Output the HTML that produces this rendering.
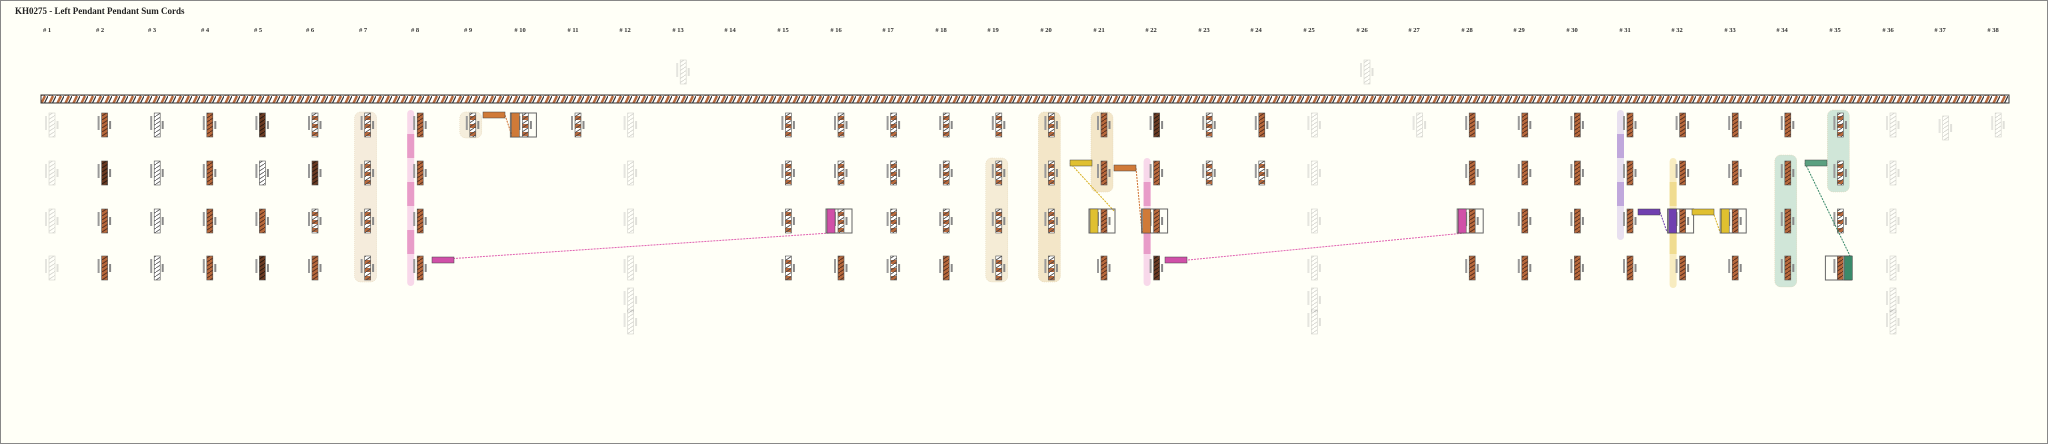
<!DOCTYPE html>
<html><head><meta charset="utf-8"><style>
html,body{margin:0;padding:0;background:#fffff7}
svg{display:block}
text{font-family:"Liberation Serif",serif}
</style></head><body>
<svg id="s" width="2048" height="444" viewBox="0 0 2048 444" xmlns="http://www.w3.org/2000/svg">
<defs>
<pattern id="hb" width="6" height="4" patternUnits="userSpaceOnUse"><rect width="6" height="4" fill="#b8693c"/><path d="M0 4L6 0" stroke="#5a3020" stroke-width="1"/></pattern>
<pattern id="hw" width="6" height="4" patternUnits="userSpaceOnUse"><rect width="6" height="4" fill="#fff"/><path d="M0 4L6 0" stroke="#555" stroke-width="0.8"/></pattern>
<pattern id="hd" width="6" height="4" patternUnits="userSpaceOnUse"><rect width="6" height="4" fill="#6a3a22"/><path d="M0 4L6 0" stroke="#2a1a10" stroke-width="1"/></pattern>
<pattern id="hm" width="6" height="8" patternUnits="userSpaceOnUse"><rect width="6" height="8" fill="#fff"/><rect y="4" width="6" height="4" fill="#b8693c"/><path d="M0 4L6 0M0 8L6 4" stroke="#444" stroke-width="0.8"/></pattern>
<pattern id="mc" width="8" height="8" patternUnits="userSpaceOnUse"><rect width="8" height="8" fill="#fff"/><path d="M1 8L5 0" stroke="#b8693c" stroke-width="2.5"/><path d="M4 8L8 0" stroke="#333" stroke-width="1.2"/></pattern>
</defs>
<rect x="0.5" y="0.5" width="2047" height="443" fill="#fffff7" stroke="#888"/>
<text x="15" y="14" font-size="9" font-weight="bold" fill="#222">KH0275 - Left Pendant Pendant Sum Cords</text>
<g id="hdr" font-size="6.5" font-weight="bold" fill="#333" text-anchor="middle">
<text x="47" y="32"># 1</text><text x="100" y="32"># 2</text><text x="152" y="32"># 3</text><text x="205" y="32"># 4</text><text x="258" y="32"># 5</text><text x="310" y="32"># 6</text><text x="363" y="32"># 7</text><text x="415" y="32"># 8</text><text x="468" y="32"># 9</text><text x="520" y="32"># 10</text><text x="573" y="32"># 11</text><text x="625" y="32"># 12</text><text x="678" y="32"># 13</text><text x="730" y="32"># 14</text><text x="783" y="32"># 15</text><text x="836" y="32"># 16</text><text x="888" y="32"># 17</text><text x="941" y="32"># 18</text><text x="993" y="32"># 19</text><text x="1046" y="32"># 20</text><text x="1099" y="32"># 21</text><text x="1151" y="32"># 22</text><text x="1204" y="32"># 23</text><text x="1256" y="32"># 24</text><text x="1309" y="32"># 25</text><text x="1362" y="32"># 26</text><text x="1414" y="32"># 27</text><text x="1467" y="32"># 28</text><text x="1519" y="32"># 29</text><text x="1572" y="32"># 30</text><text x="1625" y="32"># 31</text><text x="1677" y="32"># 32</text><text x="1730" y="32"># 33</text><text x="1782" y="32"># 34</text><text x="1835" y="32"># 35</text><text x="1888" y="32"># 36</text><text x="1940" y="32"># 37</text><text x="1993" y="32"># 38</text>
</g>
<g id="bands"></g>
<rect x="41" y="95" width="1968" height="8" fill="url(#mc)" stroke="#333" stroke-width="1"/>
<g id="cords"></g>
<g id="links" stroke-width="1" fill="none" stroke-dasharray="2,1">
<line x1="432" y1="260" x2="830" y2="233" stroke="#e060b0"/>
<line x1="1188" y1="260" x2="1465" y2="233" stroke="#e060b0"/>
<line x1="1070" y1="163" x2="1115" y2="212" stroke="#d8b020"/>
<line x1="1136" y1="168" x2="1142" y2="232" stroke="#d07030"/>
<line x1="505" y1="115" x2="512" y2="136" stroke="#d07030"/>
<line x1="1660" y1="212" x2="1667" y2="232" stroke="#7040b0"/>
<line x1="1713" y1="212" x2="1720" y2="232" stroke="#d8b020"/>
<line x1="1805" y1="163" x2="1852" y2="260" stroke="#3a8a6a"/>
</g>
<g id="tags"></g>
</svg>
<script>
var X=function(c){return 47+(c-1)*52.6;};
var R=[125,173,221,268];
var ns="http://www.w3.org/2000/svg";
function el(p,t,a){var e=document.createElementNS(ns,t);for(var k in a)e.setAttribute(k,a[k]);document.getElementById(p).appendChild(e);return e;}
function band(c,y1,y2,col,op,w){el('bands','rect',{x:X(c)-8,y:y1,width:w||22,height:y2-y1,rx:6,fill:col,opacity:op,stroke:'#e0d0b0','stroke-dasharray':'1,1','stroke-width':0.5});}
band(7,112,282,'#f5ecdc',1);band(19,158,282,'#f5ecd6',1);band(20,112,282,'#f3e6c8',1);band(21,112,192,'#f3e6c8',1);
band(9,112,138,'#f5eedc',1);
band(34,155,287,'#d0e6d8',1);band(35,110,192,'#d0e6d8',1);
function bar(c,y1,y2,col,col2){var x=X(c)-8;el('bands','rect',{x:x,y:y1,width:7,height:y2-y1,rx:3.5,fill:col2});for(var y=y1+24;y<y2-20;y+=48)el('bands','rect',{x:x,y:y,width:7,height:24,fill:col});}
bar(8,110,286,'#e89cc8','#f8d8ea');bar(22,158,286,'#e89cc8','#f8d8ea');bar(31,110,240,'#c0a8dc','#e8e0f0');bar(32,158,288,'#f0dc90','#f8ecc0');
var types={1:'ffff',2:'bdbb',3:'wwww',4:'bbbb',5:'dwbd',6:'mdmb',7:'mmmm',8:'bbbb',9:'m___',10:'m___',11:'m___',12:'ffff',13:'____',14:'____',15:'mmmm',16:'mmmb',17:'mmmm',18:'mmmb',19:'mmmm',20:'mmmm',21:'bbbb',22:'dbbd',23:'mm__',24:'bm__',25:'ffff',26:'____',27:'f___',28:'bbbb',29:'bbbb',30:'bbbb',31:'bbbb',32:'bbbb',33:'bbbb',34:'bbbb',35:'mmmb',36:'ffff',37:'____',38:'f___'};
var fill={b:'url(#hb)',w:'url(#hw)',d:'url(#hd)',m:'url(#hm)',f:'url(#hw)'};
function cord(x,y,t){var g=el('cords','g',{opacity:t=='f'?0.25:1});
 function add(a){var e=document.createElementNS(ns,'rect');for(var k in a)e.setAttribute(k,a[k]);g.appendChild(e);}
 add({x:x+2,y:y-12,width:6,height:24,fill:fill[t],stroke:'#555','stroke-width':0.6});
 add({x:x-2,y:y-9,width:2,height:14,fill:'#999'});
 add({x:x+9.5,y:y-4,width:2,height:8,fill:'#888'});}
for(var c=1;c<=38;c++){var s=types[c];for(var r=0;r<4;r++)if(s[r]!='_')cord(X(c),R[r],s[r]);}
[[13,72],[26,72],[12,300],[12,322],[25,300],[25,322],[36,300],[36,322],[37,128]].forEach(function(p){cord(X(p[0]),p[1],'f');});
function box(c,r){el('tags','rect',{x:X(c)-10,y:R[r]-12,width:26,height:24,fill:'none',stroke:'#666','stroke-width':1});}
function vtag(c,r,col){el('tags','rect',{x:X(c)-9,y:R[r]-12,width:8,height:24,fill:col,stroke:'#444','stroke-width':0.5});}
function htag(x,y,col){el('tags','rect',{x:x,y:y-3,width:22,height:6,fill:col,stroke:'#444','stroke-width':0.5});}
box(10,0);vtag(10,0,'#d07a38');htag(483,115,'#d07a38');
box(16,2);vtag(16,2,'#d050a8');htag(432,260,'#d050a8');
box(21,2);vtag(21,2,'#e0c030');htag(1070,163,'#e0c030');
box(22,2);vtag(22,2,'#d07a38');htag(1114,168,'#d07a38');
box(28,2);vtag(28,2,'#d050a8');htag(1165,260,'#d050a8');
box(32,2);vtag(32,2,'#7040b0');htag(1638,212,'#7040b0');
box(33,2);vtag(33,2,'#e0c030');htag(1692,212,'#e0c030');
box(35,3);el('tags','rect',{x:X(35)+9,y:R[3]-12,width:8,height:24,fill:'#3a8a6a',stroke:'#444','stroke-width':0.5});htag(1805,163,'#5aa080');
</script>
</body></html>
